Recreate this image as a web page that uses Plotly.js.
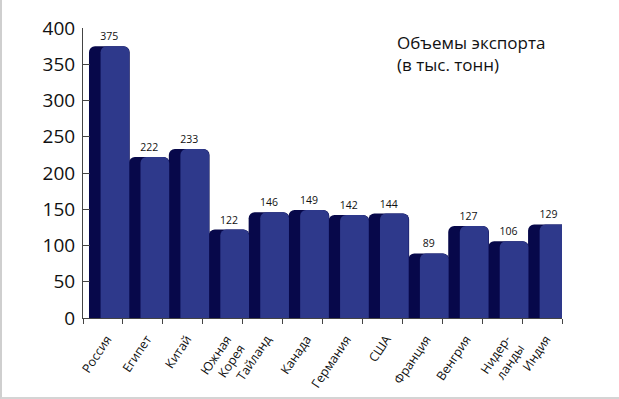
<!DOCTYPE html>
<html>
<head>
<meta charset="utf-8">
<script src="https://cdn.plot.ly/plotly-3.0.1.min.js"></script>
<style>
html,body{margin:0;padding:0;background:#fff;}
#wrap{width:619px;height:399px;box-sizing:border-box;border-left:2px solid #cfcfcf;border-bottom:2px solid #d4d4d4;}
#chart{width:617px;height:397px;}
</style>
</head>
<body>
<div id="wrap"><div id="chart"></div></div>
<script>
const categories = ["Россия","Египет","Китай","Южная<br>Корея","Тайланд","Канада","Германия","США","Франция","Венгрия","Нидер-<br>ланды","Индия"];
const exportValues = [375,222,233,122,146,149,142,144,89,127,106,129];
const yTicks = [0,50,100,150,200,250,300,350,400];

const fontFamily = '"Open Sans", "Noto Sans", sans-serif';

const sideTrace = {
  type: 'bar',
  x: categories,
  y: exportValues,
  offset: -0.35,
  width: 1.02,
  marker: {color: '#07084a', cornerradius: 6, line: {width: 0}},
  text: exportValues.map(String),
  textposition: 'outside',
  textfont: {family: fontFamily, size: 10.5, color: '#111'},
  cliponaxis: false,
  hoverinfo: 'skip'
};
const frontTrace = {
  type: 'bar',
  x: categories,
  y: exportValues,
  offset: -0.06,
  width: 0.72,
  marker: {color: '#2e398b', cornerradius: 6, line: {width: 0}},
  cliponaxis: false,
  hoverinfo: 'skip'
};

const layout = {
  width: 617,
  height: 397,
  margin: {l: 81, r: 57, t: 28, b: 79},
  paper_bgcolor: '#fff',
  plot_bgcolor: '#fff',
  showlegend: false,
  barmode: 'overlay',
  font: {family: fontFamily, color: '#111'},
  xaxis: {
    type: 'category',
    range: [-0.5, 11.5],
    tickson: 'boundaries',
    ticks: 'outside',
    ticklen: 5,
    tickcolor: '#444',
    showline: true,
    linecolor: '#444',
    linewidth: 1,
    showgrid: false,
    tickangle: -56,
    ticklabelshift: 4,
    ticklabelstandoff: 8,
    tickfont: {family: fontFamily, size: 12.5, color: '#111'}
  },
  yaxis: {
    range: [0, 400],
    tickvals: yTicks,
    ticks: 'inside',
    ticklen: 7,
    tickcolor: '#444',
    showline: true,
    linecolor: '#444',
    linewidth: 1,
    showgrid: false,
    zeroline: false,
    ticklabelstandoff: 3,
    tickfont: {family: fontFamily, size: 19, color: '#111'}
  },
  annotations: [{
    xref: 'paper', yref: 'paper',
    x: 0.652, y: 0.995, xanchor: 'left', yanchor: 'top',
    text: 'Объемы экспорта<br>(в тыс. тонн)',
    align: 'left',
    showarrow: false,
    font: {family: fontFamily, size: 17, color: '#111'}
  }]
};

Plotly.newPlot('chart', [sideTrace, frontTrace], layout, {displayModeBar: false, staticPlot: true});
</script>
</body>
</html>
